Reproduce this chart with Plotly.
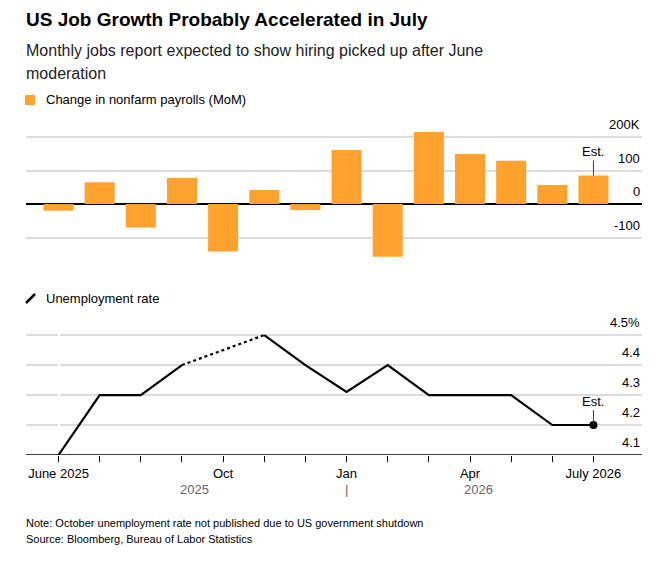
import plotly.graph_objects as go

months = list(range(14))
payrolls = [-20, 65, -70, 78, -142, 42, -18, 161, -157, 215, 149, 129, 57, 85]
unemployment = [4.1, 4.3, 4.3, 4.4, None, 4.5, 4.4, 4.31, 4.4, 4.3, 4.3, 4.3, 4.2, 4.2]
tick_pos = [0, 4, 7, 10, 13]
tick_text = ["June 2025", "Oct", "Jan", "Apr", "July 2026"]
bar_ticks = [200, 100, 0, -100]
bar_labels = ["200K", "100", "0", "-100"]
rate_ticks = [4.5, 4.4, 4.3, 4.2, 4.1]
rate_labels = ["4.5%", "4.4", "4.3", "4.2", "4.1"]

FONT = "Liberation Sans, Arial, sans-serif"
ORANGE = "#FFA22E"

# page has an 8px body offset
W, H = 657, 554
L, R, T, B = 18, 23, 102, 99
PW, PH = W - L - R, H - T - B


def px(sx):
    return (sx - 8 - L) / PW


def py(sy):
    return (H - (sy - 8) - B) / PH


fig = go.Figure()
fig.add_trace(go.Bar(x=months, y=payrolls, marker=dict(color=ORANGE, line=dict(width=0)),
                     xaxis="x2", yaxis="y2", showlegend=False))

# dotted bridge over the missing October reading
gap = unemployment.index(None)
fig.add_trace(go.Scatter(x=[gap - 1, gap + 1], y=[unemployment[gap - 1], unemployment[gap + 1]],
                         mode="lines", line=dict(color="black", width=2.2, dash="dot"),
                         showlegend=False))
fig.add_trace(go.Scatter(x=months, y=unemployment, mode="lines", connectgaps=False,
                         line=dict(color="black", width=2.2), showlegend=False))
fig.add_trace(go.Scatter(x=[months[-1]], y=[unemployment[-1]], mode="markers",
                         marker=dict(color="black", size=8), showlegend=False))

xr = [-0.79, 14.18]
fig.update_layout(
    width=W, height=H, margin=dict(l=L, r=R, t=T, b=B),
    paper_bgcolor="white", plot_bgcolor="white",
    font=dict(family=FONT, size=13, color="black"),
    bargap=0.27,
    xaxis=dict(range=xr, tickvals=tick_pos, ticktext=tick_text, ticks="outside",
               ticklen=6, tickcolor="black", showline=False, showgrid=False,
               minor=dict(tickvals=months, ticks="outside", ticklen=6, tickcolor="black"),
               tickfont=dict(size=13), fixedrange=True),
    xaxis2=dict(range=xr, anchor="y2", visible=False),
    yaxis=dict(domain=[py(455), py(315)], range=[4.1, 4.567], tickvals=rate_ticks[:-1],
               showticklabels=False, gridcolor="#dcdcdc", gridwidth=1.5,
               zeroline=False, showline=False),
    yaxis2=dict(domain=[py(262), 1], range=[-173, 280.6], tickvals=[200, 100, -100],
                showticklabels=False, gridcolor="#dcdcdc", gridwidth=1.5,
                zeroline=True, zerolinecolor="black", zerolinewidth=1.5),
)
fig.add_shape(type="line", xref="paper", yref="y", x0=0, x1=1, y0=4.1, y1=4.1,
              line=dict(color="black", width=1.5))

ann = []
for v, t in zip(bar_ticks, bar_labels):
    ann.append(dict(x=1.0, xref="paper", y=v, yref="y2", text=t, showarrow=False,
                    xanchor="right", yanchor="bottom", yshift=3, font=dict(size=13)))
for v, t in zip(rate_ticks, rate_labels):
    ann.append(dict(x=1.0, xref="paper", y=v, yref="y", text=t, showarrow=False,
                    xanchor="right", yanchor="bottom", yshift=3, font=dict(size=13)))
ann.append(dict(x=months[-1], y=payrolls[-1], xref="x2", yref="y2", text="Est.",
                showarrow=True, arrowhead=0, arrowwidth=1, ax=0, ay=-24,
                font=dict(size=13)))
ann.append(dict(x=months[-1], y=unemployment[-1], xref="x", yref="y", text="Est.",
                showarrow=True, arrowhead=0, arrowwidth=1, ax=0, ay=-24,
                font=dict(size=13)))
for xv, t in [(3.3, "2025"), (10.2, "2026"), (7, "|")]:
    ann.append(dict(x=xv, y=py(490), xref="x", yref="paper", text=t, showarrow=False,
                    yanchor="middle", font=dict(size=13, color="#666666")))

texts = [
    (24, 20, "<b>US Job Growth Probably Accelerated in July</b>", 19, "black"),
    (24, 50, "Monthly jobs report expected to show hiring picked up after June", 16, "#222222"),
    (24, 73, "moderation", 16, "#222222"),
    (44, 100, "Change in nonfarm payrolls (MoM)", 13, "black"),
    (44, 298, "Unemployment rate", 13, "black"),
    (24, 523, "Note: October unemployment rate not published due to US government shutdown", 11, "black"),
    (24, 539, "Source: Bloomberg, Bureau of Labor Statistics", 11, "black"),
]
for sx, sy, t, s, c in texts:
    ann.append(dict(x=px(sx), y=py(sy), xref="paper", yref="paper", text=t,
                    showarrow=False, xanchor="left", yanchor="middle",
                    font=dict(size=s, color=c)))
fig.update_layout(annotations=ann)

# legend keys
fig.add_shape(type="rect", xref="paper", yref="paper",
              x0=px(25), x1=px(35), y0=py(105), y1=py(95),
              fillcolor=ORANGE, line=dict(width=0))
fig.add_shape(type="line", xref="paper", yref="paper",
              x0=px(26), x1=px(35), y0=py(303), y1=py(294),
              line=dict(color="black", width=2.5))

fig.write_html("out.html")
